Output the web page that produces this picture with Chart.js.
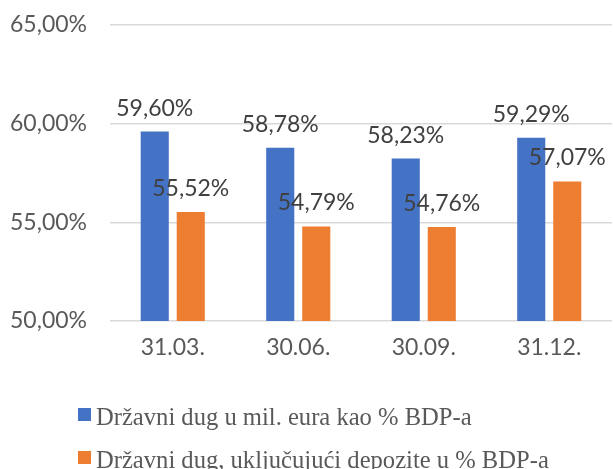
<!DOCTYPE html>
<html>
<head>
<meta charset="utf-8">
<script src="https://cdn.jsdelivr.net/npm/chart.js@4.4.1/dist/chart.umd.min.js"></script>
<style>
  html, body { margin: 0; padding: 0; background: #ffffff; }
  #wrap { position: relative; width: 613px; height: 469px; overflow: hidden; }
  #c { position: absolute; left: 0; top: 0; }
  .leg { position: absolute; left: 78px; white-space: nowrap;
         font-family: "Liberation Serif", serif; font-size: 24.6px; color: #595959; line-height: 1; }
  .leg .sw { position: absolute; left: 0; width: 13px; height: 13px; }
  .leg .tx { position: absolute; left: 18px; }
</style>
</head>
<body>
<div id="wrap">
  <canvas id="c" width="613" height="469"></canvas>
  <div class="leg" id="leg1" style="top:0"><span class="sw"></span><span class="tx"></span></div>
  <div class="leg" id="leg2" style="top:0"><span class="sw"></span><span class="tx"></span></div>
</div>
<script>
const categories = ["31.03.", "30.06.", "30.09.", "31.12."];
const seriesNames = ["Državni dug u mil. eura kao % BDP-a", "Državni dug, uključujući depozite u % BDP-a"];
const debtPctGDP = [59.60, 58.78, 58.23, 59.29];
const debtInclDepositsPctGDP = [55.52, 54.79, 54.76, 57.07];
const yTicks = [50, 55, 60, 65];

const colors = ["#4472C4", "#ED7D31"];
const fmt = v => v.toFixed(2).replace(".", ",") + "%";
const sansFont = "Lato, 'Open Sans', sans-serif";

const dataLabels = {
  id: "dataLabels",
  afterDatasetsDraw(chart) {
    const ctx = chart.ctx;
    ctx.save();
    ctx.font = "23px " + sansFont;
    ctx.fillStyle = "#404040";
    ctx.textAlign = "center";
    ctx.textBaseline = "alphabetic";
    chart.data.datasets.forEach((ds, i) => {
      chart.getDatasetMeta(i).data.forEach((bar, j) => {
        ctx.fillText(fmt(ds.data[j]), bar.x, bar.y - 16);
      });
    });
    ctx.restore();
  }
};

new Chart(document.getElementById("c"), {
  type: "bar",
  data: {
    labels: categories,
    datasets: [
      { label: seriesNames[0], data: debtPctGDP, backgroundColor: colors[0],
        categoryPercentage: 0.574, barPercentage: 0.78 },
      { label: seriesNames[1], data: debtInclDepositsPctGDP, backgroundColor: colors[1],
        categoryPercentage: 0.574, barPercentage: 0.78 }
    ]
  },
  options: {
    responsive: false,
    animation: false,
    events: [],
    layout: { padding: { top: 25, right: 1, bottom: 0, left: 0 } },
    plugins: { legend: { display: false }, tooltip: { enabled: false } },
    scales: {
      x: {
        grid: { display: false, drawTicks: false },
        border: { display: false },
        ticks: { color: "#595959", font: { family: sansFont, size: 23 }, padding: 13 },
        afterFit(s) { s.height = 148; }
      },
      y: {
        min: 50, max: 65,
        afterBuildTicks(s) { s.ticks = yTicks.map(v => ({ value: v })); },
        grid: { color: "#D9D9D9", lineWidth: 1.5, drawTicks: false },
        border: { display: false },
        ticks: { color: "#595959", font: { family: sansFont, size: 23 }, padding: 23,
                 callback: v => fmt(v) },
        afterFit(s) { s.width = 110; s.paddingTop = 0; s.paddingBottom = 0; }
      }
    }
  },
  plugins: [dataLabels]
});

// legend
[["leg1", 408], ["leg2", 451]].forEach(([id, top], i) => {
  const el = document.getElementById(id);
  el.style.top = top + "px";
  const sw = el.querySelector(".sw");
  sw.style.background = colors[i];
  sw.style.top = "0px";
  const tx = el.querySelector(".tx");
  tx.textContent = seriesNames[i];
  tx.style.top = "-3px";
});
</script>
</body>
</html>
